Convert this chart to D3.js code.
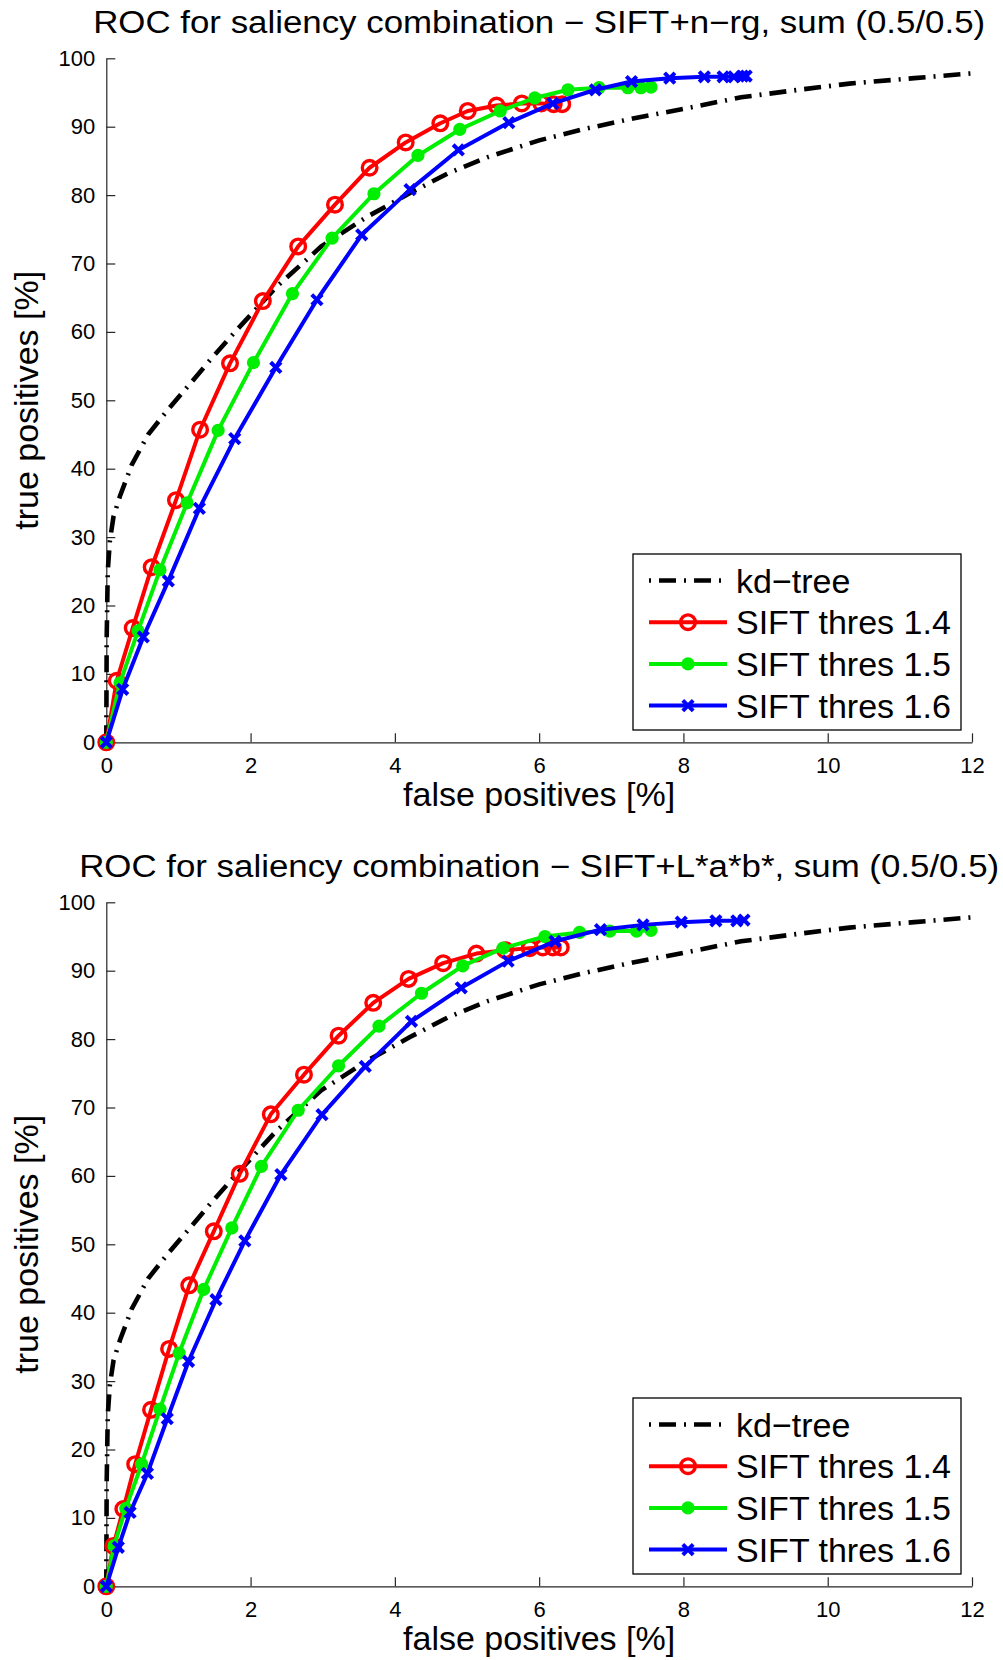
<!DOCTYPE html>
<html><head><meta charset="utf-8">
<script src="https://cdn.jsdelivr.net/npm/d3@7"></script>
<style>
body{margin:0;background:#fff}
svg text{font-family:"Liberation Sans",Arial,Helvetica,sans-serif;fill:#000}
</style>
</head><body><svg id="c" width="1003" height="1660"></svg>
<script>
// ---------- data ----------
const xTicks = [0, 2, 4, 6, 8, 10, 12];
const yTicks = [0, 10, 20, 30, 40, 50, 60, 70, 80, 90, 100];
const legendLabels = ["kd\u2212tree", "SIFT thres 1.4", "SIFT thres 1.5", "SIFT thres 1.6"];
const titles = ["ROC for saliency combination \u2212 SIFT+n\u2212rg, sum (0.5/0.5)",
                "ROC for saliency combination \u2212 SIFT+L*a*b*, sum (0.5/0.5)"];
const xLabel = "false positives [%]";
const yLabel = "true positives [%]";

const kdX = [0, 0.005, 0.02, 0.05, 0.1, 0.19, 0.35, 0.58, 0.86, 1.16, 1.44, 1.81, 2.36, 2.98, 3.61, 4.21, 4.74, 5.3, 6.0, 6.6, 7.3, 8.0, 8.8, 9.6, 10.3, 11.2, 12.0];
const kdY = [0, 15, 25, 29.5, 33, 36, 40.5, 45, 48.7, 52.4, 55.9, 60.3, 66.6, 72.5, 76.8, 80.3, 83.2, 85.6, 88.0, 89.6, 91.2, 92.6, 94.3, 95.4, 96.3, 97.1, 97.8];

// SIFT+n-rg
const nrg14X = [0, 0.144, 0.366, 0.629, 0.966, 1.30, 1.715, 2.17, 2.66, 3.17, 3.65, 4.15, 4.63, 5.01, 5.41, 5.76, 6.03, 6.2, 6.32];
const nrg14Y = [0, 9.0, 16.7, 25.6, 35.4, 45.7, 55.4, 64.5, 72.5, 78.6, 84.0, 87.7, 90.5, 92.3, 93.1, 93.4, 93.4, 93.3, 93.3];
const nrg15X = [0, 0.19, 0.44, 0.744, 1.12, 1.55, 2.04, 2.58, 3.13, 3.71, 4.32, 4.90, 5.46, 5.94, 6.40, 6.83, 7.23, 7.41, 7.55];
const nrg15Y = [0, 8.7, 16.3, 25.2, 35.0, 45.6, 55.5, 65.6, 73.7, 80.2, 85.8, 89.6, 92.3, 94.2, 95.4, 95.7, 95.7, 95.7, 95.8];
const nrg16X = [0, 0.227, 0.513, 0.86, 1.29, 1.78, 2.35, 2.92, 3.54, 4.21, 4.88, 5.58, 6.19, 6.78, 7.28, 7.81, 8.29, 8.55, 8.7, 8.82, 8.87];
const nrg16Y = [0, 7.75, 15.4, 23.6, 34.2, 44.4, 54.8, 64.7, 74.2, 80.8, 86.6, 90.6, 93.4, 95.4, 96.6, 97.1, 97.3, 97.3, 97.3, 97.4, 97.4];

// SIFT+L*a*b*
const lab14X = [0, 0.097, 0.236, 0.40, 0.62, 0.87, 1.15, 1.49, 1.85, 2.28, 2.74, 3.22, 3.70, 4.19, 4.67, 5.13, 5.53, 5.87, 6.05, 6.19, 6.3];
const lab14Y = [0, 5.9, 11.3, 17.85, 25.8, 34.7, 44.0, 51.9, 60.3, 69.0, 74.8, 80.5, 85.3, 88.8, 91.1, 92.5, 93.0, 93.3, 93.4, 93.4, 93.4];
const lab15X = [0, 0.107, 0.27, 0.49, 0.744, 1.01, 1.35, 1.74, 2.15, 2.66, 3.22, 3.78, 4.37, 4.94, 5.50, 6.08, 6.56, 6.98, 7.35, 7.55];
const lab15Y = [0, 5.9, 11.4, 17.85, 25.9, 34.1, 43.4, 52.4, 61.4, 69.6, 76.1, 81.9, 86.7, 90.7, 93.3, 95.0, 95.6, 95.8, 95.8, 95.9];
const lab16X = [0, 0.167, 0.33, 0.57, 0.845, 1.14, 1.52, 1.92, 2.42, 2.99, 3.59, 4.23, 4.92, 5.57, 6.22, 6.85, 7.44, 7.97, 8.45, 8.74, 8.84];
const lab16Y = [0, 5.7, 10.8, 16.5, 24.5, 32.9, 41.9, 50.5, 60.2, 68.95, 76.0, 82.6, 87.5, 91.4, 94.3, 96.0, 96.7, 97.1, 97.3, 97.3, 97.4];

// ---------- drawing ----------
const svg = d3.select("#c");
const plotLeft = 106.3, plotRight = 972, plotH = 684;
const panels = [
  {top: 58.3, title: titles[0], titleW: 892,
   series: [[nrg14X, nrg14Y], [nrg15X, nrg15Y], [nrg16X, nrg16Y]]},
  {top: 902.3, title: titles[1], titleW: 920,
   series: [[lab14X, lab14Y], [lab15X, lab15Y], [lab16X, lab16Y]]}
];
const seriesStyle = [
  {color: "#ff0000", marker: "o"},
  {color: "#00ee00", marker: "dot"},
  {color: "#0000ff", marker: "x"}
];
const kdDash = "17,8,2,8";
const font = '"Liberation Sans",Arial,Helvetica,sans-serif';

function drawMarker(g, type, color, cx, cy) {
  if (type === "o") {
    g.append("circle").attr("cx", cx).attr("cy", cy).attr("r", 7.3)
      .attr("fill", "none").attr("stroke", color).attr("stroke-width", 3.4);
  } else if (type === "dot") {
    g.append("circle").attr("cx", cx).attr("cy", cy).attr("r", 6.6)
      .attr("fill", color);
  } else {
    const s = 5.2;
    g.append("path")
      .attr("d", `M${cx - s},${cy - s}L${cx + s},${cy + s}M${cx - s},${cy + s}L${cx + s},${cy - s}`)
      .attr("stroke", color).attr("stroke-width", 4).attr("fill", "none");
  }
}

panels.forEach(p => {
  const x = d3.scaleLinear().domain([0, 12]).range([plotLeft, plotRight]);
  const y = d3.scaleLinear().domain([0, 100]).range([p.top + plotH, p.top]);
  const g = svg.append("g");

  // title
  g.append("text").attr("x", (plotLeft + plotRight) / 2).attr("y", p.top - 25)
    .attr("text-anchor", "middle").attr("font-size", 31)
    .attr("textLength", p.titleW).attr("lengthAdjust", "spacingAndGlyphs")
    .text(p.title);

  // axes
  const ax = g.append("g").attr("transform", `translate(0,${p.top + plotH})`)
    .call(d3.axisBottom(x).tickValues(xTicks).tickSizeInner(-9).tickSizeOuter(0)
      .tickPadding(15.5).tickFormat(d3.format("d")));
  const ay = g.append("g").attr("transform", `translate(${plotLeft},0)`)
    .call(d3.axisLeft(y).tickValues(yTicks).tickSizeInner(-9).tickSizeOuter(0)
      .tickPadding(11).tickFormat(d3.format("d")));
  [ax, ay].forEach(a => {
    a.attr("font-family", font).attr("font-size", 22);
    a.selectAll("path,line").attr("stroke", "#262626").attr("stroke-width", 1.2);
    a.selectAll("text").attr("fill", "#000");
  });

  // axis labels
  g.append("text").attr("x", (plotLeft + plotRight) / 2).attr("y", p.top + plotH + 64)
    .attr("text-anchor", "middle").attr("font-size", 34).text(xLabel);
  g.append("text").attr("transform", `translate(38,${p.top + plotH / 2}) rotate(-90)`)
    .attr("text-anchor", "middle").attr("font-size", 34).text(yLabel);

  // kd-tree
  const line = d3.line().x(d => x(d[0])).y(d => y(d[1]));
  const kd = kdX.map((v, i) => [v, kdY[i]]);
  g.append("path").datum(kd).attr("d", line).attr("fill", "none")
    .attr("stroke", "#000").attr("stroke-width", 4.6).attr("stroke-dasharray", kdDash);

  // SIFT series
  p.series.forEach((s, si) => {
    const st = seriesStyle[si];
    const pts = s[0].map((v, i) => [v, s[1][i]]);
    g.append("path").datum(pts).attr("d", line).attr("fill", "none")
      .attr("stroke", st.color).attr("stroke-width", 4).attr("stroke-linejoin", "round");
    const mg = g.append("g");
    pts.forEach(d => drawMarker(mg, st.marker, st.color, x(d[0]), y(d[1])));
  });

  // legend
  const lx = 633, ly = p.top + 495.7, lw = 328, lh = 176;
  const lg = g.append("g");
  lg.append("rect").attr("x", lx).attr("y", ly).attr("width", lw).attr("height", lh)
    .attr("fill", "#fff").attr("stroke", "#000").attr("stroke-width", 1.3);
  legendLabels.forEach((lab, i) => {
    const cy = ly + 26.5 + i * 41.7;
    if (i === 0) {
      lg.append("path").attr("d", `M649,${cy}H727`).attr("stroke", "#000")
        .attr("stroke-width", 4.6).attr("stroke-dasharray", "2,8,17,8").attr("fill", "none");
    } else {
      const st = seriesStyle[i - 1];
      lg.append("path").attr("d", `M649,${cy}H727`).attr("stroke", st.color)
        .attr("stroke-width", 4).attr("fill", "none");
      drawMarker(lg, st.marker, st.color, 688, cy);
    }
    lg.append("text").attr("x", 736).attr("y", cy + 12.2).attr("font-size", 34).text(lab);
  });
});
</script>
</body></html>
